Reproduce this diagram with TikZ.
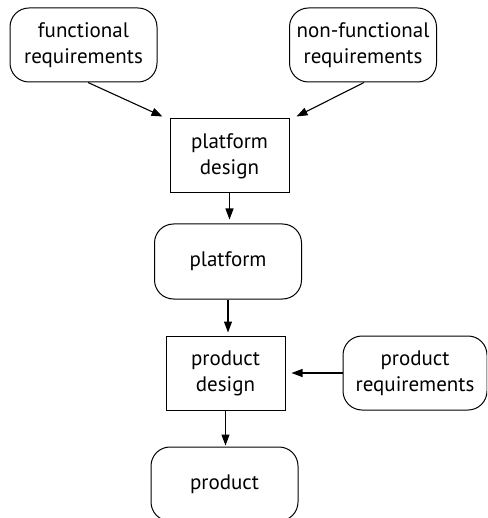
\documentclass[tikz,border=0pt]{standalone}
\usepackage{fontspec}
\setmainfont{PT Sans}
\usetikzlibrary{arrows.meta}
\begin{document}
\begin{tikzpicture}[x=1pt,y=-1pt,
    every node/.style={font=\fontsize{21}{26}\selectfont, align=center, line width=1pt},
    inbox/.style={draw, rounded corners=19pt, minimum width=147pt, minimum height=74pt},
    stepbox/.style={draw, minimum width=119pt, minimum height=74pt},
    flow/.style={line width=1.1pt, -{Triangle[length=11pt,width=8pt]}}]
      \clip (0,0) rectangle (487,518);
      \useasboundingbox (0,0) rectangle (487,518);
      \node[inbox] (func) at (83.5,45) {functional\\requirements};
      \node[inbox] (nonfunc) at (363,45) {non-functional\\requirements};
      \node[stepbox] (pdesign) at (229.5,156) {platform\\design};
      \node[inbox, minimum height=75pt] (platform) at (228,261.5) {platform};
      \node[stepbox] (prdesign) at (225.5,373) {product\\design};
      \node[inbox, minimum width=144pt] (prreq) at (415,373) {product\\requirements};
      \node[inbox] (product) at (224.5,484) {product};
      \coordinate (pdl) at ([shift={(-7,-2)}]pdesign.north west);
      \coordinate (pdr) at ([shift={(7,-2)}]pdesign.north east);
      \draw[flow] ([xshift=4.5pt]func.south) -- (pdl);
      \draw[flow] ([xshift=1pt]nonfunc.south) -- (pdr);
      \draw[flow, shorten >=4pt] (pdesign.south) -- (pdesign.south |- platform.north);
      \draw[flow, shorten >=3pt] (platform.south) -- (prdesign.north -| platform.south);
      \draw[flow, shorten >=6pt] (prreq.west) -- (prdesign.east);
      \draw[flow, shorten >=1pt] (prdesign.south) -- (prdesign.south |- product.north);
\end{tikzpicture}
\end{document}
